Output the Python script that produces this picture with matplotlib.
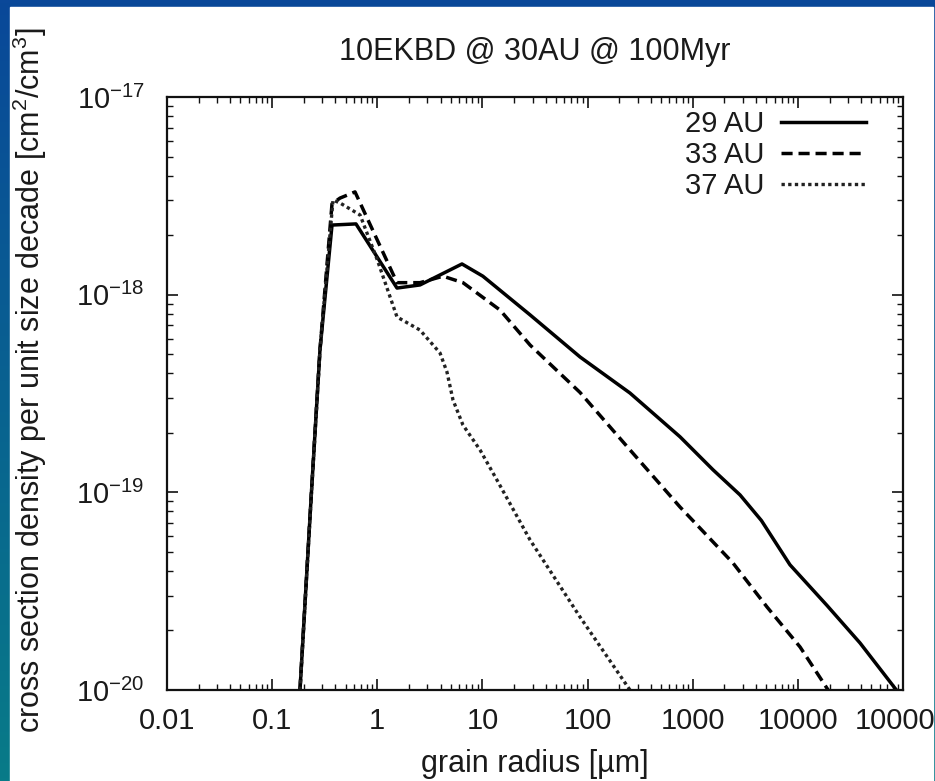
import numpy as np
import matplotlib
matplotlib.use("Agg")
import matplotlib.pyplot as plt
from matplotlib.patches import Rectangle
from matplotlib.ticker import LogLocator, NullFormatter

plt.rcParams['font.family'] = ['Liberation Sans', 'DejaVu Sans']
plt.rcParams['mathtext.fontset'] = 'custom'
plt.rcParams['mathtext.rm'] = 'Liberation Sans'
plt.rcParams['mathtext.it'] = 'Liberation Sans:italic'
plt.rcParams['mathtext.bf'] = 'Liberation Sans:bold'

#Data
x29 = [0.184, 0.234, 0.285, 0.371, 0.627, 1.54, 2.55, 6.39, 10.1, 28.4, 84.8, 253, 757,
       1560, 2820, 4500, 8410, 18900, 39000, 84000, 100000]
y29 = [1.0e-20, 9.1e-20, 5.25e-19, 2.25e-18, 2.28e-18, 1.08e-18, 1.12e-18, 1.43e-18, 1.24e-18,
       7.9e-19, 4.84e-19, 3.18e-19, 1.91e-19, 1.30e-19, 9.7e-20, 7.2e-20, 4.3e-20, 2.68e-20,
       1.73e-20, 1.02e-20, 9.1e-21]

x33 = [0.184, 0.234, 0.285, 0.371, 0.442, 0.614, 1.54, 2.55, 4.22, 6.53, 14.7, 28.4, 84.8,
       253, 757, 2415, 5090, 10500, 19400]
y33 = [1.0e-20, 9.1e-20, 5.25e-19, 2.88e-18, 3.08e-18, 3.31e-18, 1.15e-18, 1.15e-18, 1.24e-18,
       1.15e-18, 8.36e-19, 5.56e-19, 3.2e-19, 1.64e-19, 8.43e-20, 4.39e-20, 2.63e-20, 1.65e-20,
       1.0e-20]

x37 = [0.184, 0.234, 0.285, 0.379, 0.442, 0.686, 1.0, 1.54, 2.55, 3.95, 4.6, 5.25, 6.53, 9.48,
       13.8, 28.4, 84.8, 253]
y37 = [1.0e-20, 9.1e-20, 5.25e-19, 3.01e-18, 2.91e-18, 2.53e-18, 1.50e-18, 7.71e-19, 6.62e-19,
       5.07e-19, 4.06e-19, 2.93e-19, 2.19e-19, 1.64e-19, 1.15e-19, 5.74e-20, 2.34e-20, 1.0e-20]

series_labels = ["29 AU", "33 AU", "37 AU"]
xtick_vals = [0.01, 0.1, 1, 10, 100, 1000, 10000, 100000]
xtick_labels = ["0.01", "0.1", "1", "10", "100", "1000", "10000", "100000"]
ytick_vals = [1e-20, 1e-19, 1e-18, 1e-17]

W, H = 935, 781
txt = "#1a1a1a"

fig = plt.figure(figsize=(W / 100, H / 100), dpi=100)

#Blue gradient frame with white panel
bg = fig.add_axes([0, 0, 1, 1], zorder=-10)
top_c = np.array([10, 72, 153]) / 255
bot_c = np.array([8, 123, 136]) / 255
t = np.linspace(0, 1, 256)[:, None, None]
grad = top_c * (1 - t) + bot_c * t
grad = np.repeat(grad, 2, axis=1)
bg.imshow(grad, aspect="auto", extent=[0, 1, 0, 1])
bg.add_patch(Rectangle((10 / W, 0), (933 - 10) / W, (H - 7) / H, color="white"))
bg.set_xlim(0, 1)
bg.set_ylim(0, 1)
bg.axis("off")

ax = fig.add_axes([167 / W, (H - 690) / H, (903 - 167) / W, (690 - 97) / H])
ax.set_facecolor("white")

ax.plot(x29, y29, color="black", lw=2.5, ls="-", label=series_labels[0])
ax.plot(x33, y33, color="black", lw=2.5, ls=(0, (3.2, 1.7)), label=series_labels[1])
ax.plot(x37, y37, color="#222222", lw=2.4, ls=(0, (1, 1)), label=series_labels[2])

ax.set_xscale("log")
ax.set_yscale("log")
ax.set_xlim(0.01, 100000)
ax.set_ylim(1e-20, 1e-17)

ax.set_xticks(xtick_vals)
ax.set_xticklabels(xtick_labels)
ax.set_yticks(ytick_vals)
ax.xaxis.set_minor_locator(LogLocator(base=10, subs=np.arange(2, 10), numticks=50))
ax.yaxis.set_minor_locator(LogLocator(base=10, subs=np.arange(2, 10), numticks=50))
ax.xaxis.set_minor_formatter(NullFormatter())
ax.yaxis.set_minor_formatter(NullFormatter())

ax.tick_params(which="both", direction="in", top=True, right=True, colors="#111111",
               labelcolor=txt, labelsize=21)
ax.tick_params(which="major", length=8, width=1.2)
ax.tick_params(which="minor", length=4, width=1.0)
ax.tick_params(axis="x", pad=12)
ax.tick_params(axis="y", pad=16)

for s in ax.spines.values():
    s.set_linewidth(1.6)
    s.set_color("#111111")

ax.set_xlabel("grain radius [\u00b5m]", fontsize=22, color=txt)
ax.xaxis.label.set_va("center")
ax.xaxis.set_label_coords(0.5, (690 - 764) / (690 - 97))

ax.set_ylabel("cross section density per unit size decade [cm$^{2}$/cm$^{3}$]",
              fontsize=22, color=txt)
ax.yaxis.label.set_va("center")
ax.yaxis.set_label_coords((30 - 167) / (903 - 167), (690 - 380) / (690 - 97))

fig.text(535 / W, 1 - 52 / H, "10EKBD @ 30AU @ 100Myr", ha="center", va="center",
         fontsize=22, color=txt)

ax.legend(loc="upper right", bbox_to_anchor=(866 / W, (H - 110) / H),
          bbox_transform=fig.transFigure, frameon=False, markerfirst=False,
          handlelength=2.9, handletextpad=0.6, labelspacing=0.1, borderpad=0,
          borderaxespad=0, fontsize=21, labelcolor=txt)

fig.savefig("out.png", dpi=100)
